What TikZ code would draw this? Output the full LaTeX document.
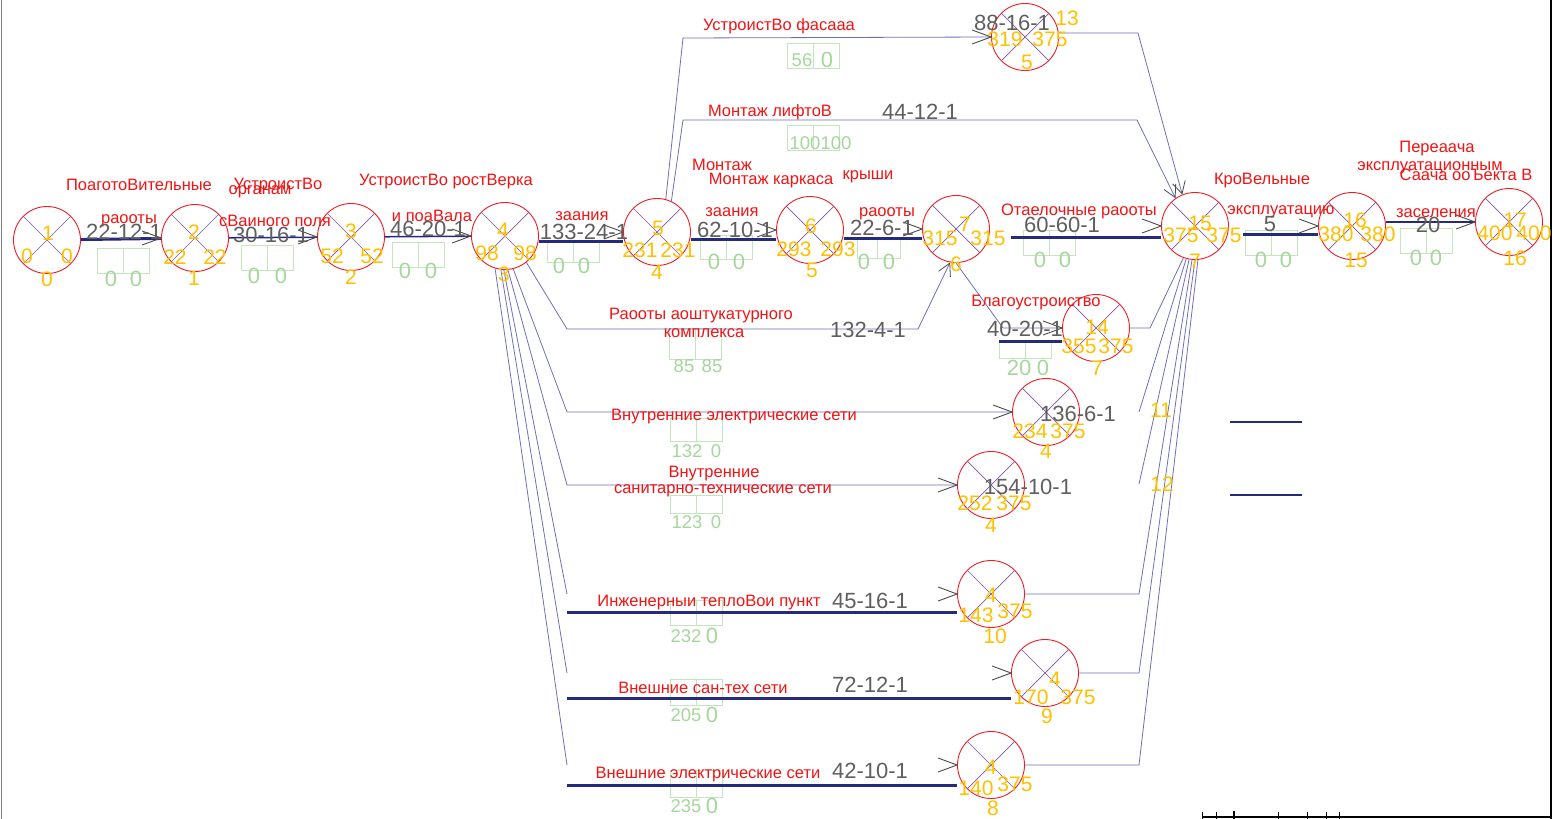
\documentclass[tikz,border=0pt]{standalone}
\usepackage{fontspec}
\setmainfont{Liberation Sans}
\usetikzlibrary{arrows.meta,calc}
\definecolor{cred}{RGB}{238,30,36}
\definecolor{ctxt}{RGB}{240,20,20}
\definecolor{corg}{RGB}{255,192,0}
\definecolor{cgry}{RGB}{95,95,95}
\definecolor{cgrn}{RGB}{165,214,155}
\definecolor{cbox}{RGB}{196,228,190}
\definecolor{cnavy}{RGB}{38,42,125}
\definecolor{clav}{RGB}{110,110,185}
\definecolor{cdiag}{RGB}{125,85,165}
\definecolor{ctip}{RGB}{75,75,75}
\newcommand\myfs[1]{\fontsize{#1}{#1}\selectfont}
\newcommand\evnode[3]{\node[ev] (#1) at (#2,#3) {}; \draw[diag] (#1.135) -- (#1.-45) (#1.45) -- (#1.-135);}
\newcommand\rtip[1]{\draw[tipl] ($(#1)+(-19,-7)$) -- (#1) -- ($(#1)+(-19,7)$);}
\newcommand\gbx[3]{\draw[bx] (#1,#2) rectangle (#1+26,#3); \draw[bx] (#1+26,#2) rectangle (#1+52,#3);}
\begin{document}
\begin{tikzpicture}[x=1pt,y=-1pt,
  ev/.style={circle,draw=cred,line width=0.9pt,minimum size=67pt,inner sep=0pt},
  diag/.style={draw=cdiag,line width=0.7pt},
  lab/.style={text=ctxt,font=\myfs{16.5},inner sep=0pt},
  dur/.style={text=cgry,font=\myfs{22},inner sep=0pt},
  num/.style={text=corg,font=\myfs{21},inner sep=0pt},
  gn/.style={text=cgrn,font=\myfs{22},inner sep=0pt},
  gns/.style={text=cgrn,font=\myfs{18.5},inner sep=0pt},
  bx/.style={draw=cbox,line width=0.8pt},
  crit/.style={draw=cnavy,line width=3pt},
  midl/.style={draw=cnavy,line width=1.5pt},
  thinl/.style={draw=clav,line width=0.8pt},
  tipl/.style={draw=ctip,line width=0.9pt},
  barb/.style={-{Straight Barb[length=12pt,width=13pt,color=ctip,line width=0.8pt]}},
]
\useasboundingbox (0,0) rectangle (1556,819);

% ---------- green boxes ----------
\gbx{97}{248}{273}
\gbx{241}{245}{270}
\gbx{392}{242}{267}
\gbx{547}{242}{262}
\gbx{700}{235}{259}
\draw[bx] (857,238) rectangle (877,258); \draw[bx] (877,238) rectangle (900,258);
\gbx{1023}{230}{255}
\gbx{1245}{230}{255}
\gbx{1400}{228}{253}
\gbx{787}{43}{68}
\gbx{787}{125}{150}
\gbx{669}{328}{359}
\gbx{999}{340}{358}
\gbx{670}{418}{441}
\gbx{670}{495}{513}
\gbx{670}{600}{625}
\gbx{670}{679}{705}
\gbx{670}{770}{797}

% ---------- events ----------
\evnode{n1}{47}{240}
\evnode{n2}{195}{238}
\evnode{n3}{351}{237}
\evnode{n4}{505}{236}
\evnode{n5}{657}{232}
\evnode{n6}{810}{230}
\evnode{n7}{956}{229}
\evnode{n13}{1025}{37}
\evnode{n14}{1096}{328}
\evnode{n11}{1046}{412}
\evnode{n12}{991}{485}
\evnode{n10}{991}{594}
\evnode{n9}{1045}{673}
\evnode{n8}{991}{765}
\evnode{n15}{1195}{226}
\evnode{n16}{1352}{226}
\evnode{n17}{1509}{222}

% ---------- coordinates ----------
\coordinate (a13) at (683,38);
\coordinate (a15) at (683,120);
\coordinate (b15) at (1137,120);
\coordinate (b13) at (1138,33);
\coordinate (p1) at (567,329);
\coordinate (p2) at (918,329);
\coordinate (q1) at (1003,328);
\coordinate (f1) at (567,412);
\coordinate (f2) at (567,485);
\coordinate (f3) at (567,594);
\coordinate (f4) at (567,673);
\coordinate (f5) at (567,765);
\coordinate (g0) at (1139,412);
\coordinate (g1) at (1139,484);
\coordinate (g2) at (1139,594);
\coordinate (g3) at (1139,673);
\coordinate (g4) at (1139,765);
\coordinate (g5) at (1150,328);

% ---------- main chain ----------
\draw[crit] (n1) -- (n2);
\draw[midl] (n2) -- (n3);
\draw[midl] (n3) -- (n4);
\draw[crit] ([yshift=-5pt]n4.east) -- ([yshift=-9pt]n5.west);
\draw[crit] ([yshift=-7pt]n5.east) -- ([yshift=-9pt]n6.west);
\draw[crit] ([yshift=-8pt]n6.east) -- ([yshift=-9pt]n7.west);
\draw[crit] ([shift={(21pt,-8pt)}]n7.east) -- ([yshift=-11pt]n15.west);
\draw[crit] ([shift={(14pt,-8pt)}]n15.east) -- ([yshift=-8pt]n16.west);
\draw[draw=cnavy,line width=2pt] ([yshift=4pt]n16.east) -- (n17.west);
\rtip{n2.west}\rtip{n3.west}\rtip{n4.west}\rtip{n5.west}\rtip{n6.west}
\rtip{n7.west}\rtip{n15.west}\rtip{n16.west}\rtip{n17.west}

% ---------- upper routes ----------
\draw[thinl] (n5.75) -- (a13) -- (n13.west);
\rtip{n13.west}
\draw[thinl,barb] (n5.65) -- (a15) -- (b15) -- (n15.125);
\draw[thinl,barb] ([yshift=4pt]n13.east) -- (b13) -- (n15.112);

% ---------- plaster and landscaping ----------
\draw[thinl,barb] (n4.-51) -- (p1) -- (p2) -- (n7.-100);
\draw[thinl] (n7.-90) -- (q1) -- (n14.west);
\draw[crit] (999,341) -- ([yshift=-13pt]n14.west);
\rtip{n14.west}

% ---------- fan from event 4 ----------
\draw[thinl] (n4.-76) -- (f1) -- (n11);
\draw[thinl] (n4.-85) -- (f2) -- (n12);
\draw[thinl] (n4.-92) -- (f3);
\draw[thinl] (n4.-97) -- (f4);
\draw[thinl] (n4.-107) -- (f5);
\draw[crit] ([yshift=-18pt]f3) -- ([yshift=-18pt]n10.west);
\draw[crit] ([yshift=-25pt]f4) -- ([yshift=-25pt]n9.west);
\draw[crit] ([yshift=-20pt]f5) -- ([yshift=-20pt]n8.west);
\rtip{n11.west}\rtip{n12.west}\rtip{n10.west}\rtip{n9.west}\rtip{n8.west}

% ---------- into event 15 from below ----------
\draw[thinl] (n14) -- (g5) -- (n15.-110);
\draw[thinl] (g0) -- (n15.-105);
\draw[thinl] (g1) -- (n15.-100);
\draw[thinl] (n10) -- (g2) -- (n15.-95);
\draw[thinl] (n9) -- (g3) -- (n15.-90);
\draw[thinl] (n8) -- (g4) -- (n15.-85);

% ---------- legend lines and frame ----------
\draw[draw=cnavy,line width=2.5pt] (1230,422) -- (1302,422);
\draw[draw=cnavy,line width=2.5pt] (1230,495) -- (1302,495);
\draw[gray,line width=1pt] (1,0) -- (1,819);
\draw[black,line width=1.5pt] (1551,0) -- (1551,819);
\draw[black,line width=1.5pt] (1202,817) -- (1551,817);
\foreach \tx in {1202,1216,1278,1307,1326,1339} \draw[black,line width=1pt] (\tx,812) -- (\tx,819);
\draw[black,line width=2.5pt] (1234,811) -- (1234,819);

% ---------- red labels ----------
\node[lab] at (139,185) {ПоаготоВительные};
\node[lab] at (129,221) {раооты};
\node[lab] at (278,186) {УстроистВо};
\node[lab] at (260,192) {органам};
\node[lab] at (275,221) {сВаиного поля};
\node[lab] at (446,182) {УстроистВо ростВерка};
\node[lab] at (432,216) {и поаВала};
\node[lab] at (582,216) {заания};
\node[lab] at (722,165) {Монтаж};
\node[lab] at (771,181) {Монтаж каркаса};
\node[lab] at (732,212) {заания};
\node[lab] at (868,177) {крыши};
\node[lab] at (887,214) {раооты};
\node[lab] at (1079,211) {Отаелочные раооты};
\node[lab] at (1262,181) {КроВельные};
\node[lab] at (1281,212) {эксплуатацию};
\node[lab] at (1437,149) {Переаача};
\node[lab] at (1430,168) {эксплуатационным};
\node[lab] at (1466,175) {Саача ооЪекта В};
\node[lab] at (1436,213) {заселения};
\node[lab] at (779,26) {УстроистВо фасааа};
\node[lab] at (770,112) {Монтаж лифтоВ};
\node[lab] at (701,316) {Раооты аоштукатурного};
\node[lab] at (704,333) {комплекса};
\node[lab] at (1036,303) {Благоустроиство};
\node[lab] at (734,417) {Внутренние электрические сети};
\node[lab] at (714,474) {Внутренние};
\node[lab] at (723,491) {санитарно-технические сети};
\node[lab] at (709,603) {Инженерныи теплоВои пункт};
\node[lab] at (703,688) {Внешние сан-тех сети};
\node[lab] at (708,775) {Внешние электрические сети};

% ---------- grey durations ----------
\node[dur] at (124,232) {22-12-1};
\node[dur] at (271,235) {30-16-1};
\node[dur] at (428,229) {46-20-1};
\node[dur] at (584,232) {133-24-1};
\node[dur] at (735,230) {62-10-1};
\node[dur] at (882,228) {22-6-1};
\node[dur] at (1062,225) {60-60-1};
\node[dur] at (1270,224) {5};
\node[dur] at (1428,225) {20};
\node[dur] at (1012,23) {88-16-1};
\node[dur] at (920,112) {44-12-1};
\node[dur] at (868,330) {132-4-1};
\node[dur] at (1025,329) {40-20-1};
\node[dur] at (1078,414) {136-6-1};
\node[dur] at (1028,487) {154-10-1};
\node[dur] at (870,601) {45-16-1};
\node[dur] at (870,685) {72-12-1};
\node[dur] at (870,771) {42-10-1};

% ---------- orange event numbers ----------
\node[num] at (48,233) {1}; \node[num] at (27,256) {0}; \node[num] at (67,256) {0}; \node[num] at (47,279) {0};
\node[num] at (194,232) {2}; \node[num] at (175,257) {22}; \node[num] at (215,257) {22}; \node[num] at (194,278) {1};
\node[num] at (351,231) {3}; \node[num] at (332,256) {52}; \node[num] at (372,256) {52}; \node[num] at (351,277) {2};
\node[num] at (503,230) {4}; \node[num] at (487,253) {98}; \node[num] at (525,253) {98}; \node[num] at (504,274) {3};
\node[num] at (658,228) {5}; \node[num] at (640,250) {231}; \node[num] at (678,250) {231}; \node[num] at (657,272) {4};
\node[num] at (811,226) {6}; \node[num] at (794,249) {293}; \node[num] at (838,249) {293}; \node[num] at (812,270) {5};
\node[num] at (965,224) {7}; \node[num] at (940,238) {315}; \node[num] at (988,238) {315}; \node[num] at (956,264) {6};
\node[num] at (1067,18) {13}; \node[num] at (1005,39) {319}; \node[num] at (1050,39) {375}; \node[num] at (1027,62) {5};
\node[num] at (1097,327) {14}; \node[num] at (1079,346) {355}; \node[num] at (1116,346) {375}; \node[num] at (1097,368) {7};
\node[num] at (1030,431) {234}; \node[num] at (1068,431) {375}; \node[num] at (1046,451) {4};
\node[num] at (975,503) {252}; \node[num] at (1014,503) {375}; \node[num] at (991,525) {4};
\node[num] at (991,595) {4}; \node[num] at (976,615) {143}; \node[num] at (1015,611) {375}; \node[num] at (995,636) {10};
\node[num] at (1055,679) {4}; \node[num] at (1031,697) {170}; \node[num] at (1078,697) {375}; \node[num] at (1047,716) {9};
\node[num] at (991,767) {4}; \node[num] at (976,788) {140}; \node[num] at (1015,784) {375}; \node[num] at (993,808) {8};
\node[num] at (1200,223) {15}; \node[num] at (1181,235) {375}; \node[num] at (1224,235) {375}; \node[num] at (1195,261) {7};
\node[num] at (1355,220) {16}; \node[num] at (1336,234) {380}; \node[num] at (1378,234) {380}; \node[num] at (1356,260) {15};
\node[num] at (1515,220) {17}; \node[num] at (1495,233) {400}; \node[num] at (1534,233) {400}; \node[num] at (1515,258) {16};
\node[num] at (1161,410) {11}; \node[num] at (1162,484) {12};

% ---------- green reserve numbers ----------
\node[gn] at (111,279) {0}; \node[gn] at (136,279) {0};
\node[gn] at (254,276) {0}; \node[gn] at (281,276) {0};
\node[gn] at (405,271) {0}; \node[gn] at (431,271) {0};
\node[gn] at (559,266) {0}; \node[gn] at (584,266) {0};
\node[gn] at (714,262) {0}; \node[gn] at (739,262) {0};
\node[gn] at (864,262) {0}; \node[gn] at (889,262) {0};
\node[gn] at (1040,260) {0}; \node[gn] at (1065,260) {0};
\node[gn] at (1261,260) {0}; \node[gn] at (1286,260) {0};
\node[gn] at (1416,258) {0}; \node[gn] at (1436,258) {0};
\node[gns] at (802,60) {56}; \node[gn] at (827,60) {0};
\node[gns] at (805,143) {100}; \node[gns] at (836,143) {100};
\node[gns] at (684,366) {85}; \node[gns] at (712,366) {85};
\node[gn] at (1019,368) {20}; \node[gn] at (1043,368) {0};
\node[gns] at (687,451) {132}; \node[gns] at (716,451) {0};
\node[gns] at (687,522) {123}; \node[gns] at (716,522) {0};
\node[gns] at (686,636) {232}; \node[gn] at (712,636) {0};
\node[gns] at (686,715) {205}; \node[gn] at (712,715) {0};
\node[gns] at (686,806) {235}; \node[gn] at (712,806) {0};
\end{tikzpicture}
\end{document}
